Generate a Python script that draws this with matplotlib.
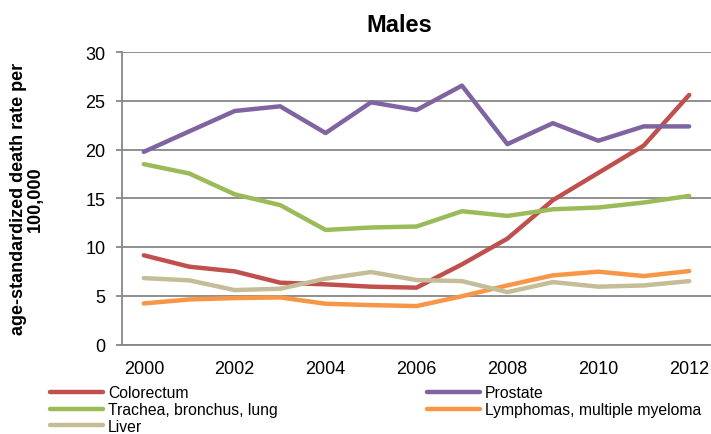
import matplotlib

matplotlib.use("Agg")

import matplotlib.pyplot as plt

plt.rcParams["font.family"] = ["Liberation Sans", "DejaVu Sans"]

years = list(range(2000, 2013))

colorectum = [9.15, 7.98, 7.5, 6.34, 6.17, 5.93, 5.83, 8.22, 10.86, 14.8, 17.6, 20.4, 25.6]
prostate = [19.76, 21.86, 23.95, 24.43, 21.69, 24.84, 24.05, 26.55, 20.55, 22.7, 20.9, 22.37, 22.37]
trachea = [18.5, 17.54, 15.4, 14.3, 11.75, 12.0, 12.1, 13.67, 13.19, 13.87, 14.05, 14.56, 15.24]
lymphomas = [4.21, 4.62, 4.76, 4.83, 4.18, 4.04, 3.94, 4.95, 6.06, 7.09, 7.47, 7.02, 7.53]
liver = [6.81, 6.58, 5.58, 5.72, 6.75, 7.43, 6.61, 6.5, 5.37, 6.4, 5.93, 6.06, 6.5]

series_names = [
    "Colorectum",
    "Prostate",
    "Trachea, bronchus, lung",
    "Lymphomas, multiple myeloma",
    "Liver",
]
series_values = [colorectum, prostate, trachea, lymphomas, liver]
series_colors = ["#C0504D", "#8064A2", "#9BBB59", "#F79646", "#C4BD97"]

grid_color = "#878787"

figure = plt.figure(figsize=(7.11, 4.35), dpi=100)
axis = figure.add_axes([122 / 711, 1 - 345.5 / 435, 1 - 122 / 711, (345.5 - 53) / 435])

lines = {}
for name, values, color in zip(series_names, series_values, series_colors):
    (line,) = axis.plot(
        years,
        values,
        color=color,
        linewidth=3.2,
        solid_capstyle="round",
        solid_joinstyle="round",
        label=name,
    )
    lines[name] = line

axis.set_xlim(1999.52, 2012.48)
axis.set_ylim(0, 30)
axis.set_yticks(range(0, 31, 5))
axis.set_xticks(range(2000, 2013, 2))

axis.grid(axis="y", color=grid_color, linewidth=1.3)
axis.set_axisbelow(True)
for side in ["top", "right"]:
    axis.spines[side].set_visible(False)
axis.spines["left"].set_color(grid_color)
axis.spines["left"].set_linewidth(1.3)
axis.spines["bottom"].set_color(grid_color)
axis.spines["bottom"].set_linewidth(1.3)

axis.tick_params(axis="y", length=4, width=1.3, color=grid_color, pad=8, labelsize=13)
axis.tick_params(axis="x", length=0, pad=11, labelsize=13)

figure.text(
    399 / 711,
    1 - 32 / 435,
    "Males",
    ha="center",
    va="baseline",
    fontsize=17,
    fontweight="bold",
)

figure.text(
    27 / 711,
    1 - 199 / 435,
    "age-standardized death rate per\n100,000",
    rotation=90,
    ha="center",
    va="center",
    multialignment="center",
    fontsize=13,
    fontweight="bold",
    linespacing=1.05,
)

legend_style = dict(
    loc="upper left",
    frameon=False,
    fontsize=11.3,
    borderpad=0,
    borderaxespad=0,
    handlelength=3.4,
    handletextpad=0.3,
    labelspacing=0.1,
)

left_names = ["Colorectum", "Trachea, bronchus, lung", "Liver"]
right_names = ["Prostate", "Lymphomas, multiple myeloma"]

left_legend = figure.legend(
    [lines[n] for n in left_names],
    left_names,
    bbox_to_anchor=(50 / 711, 1 - 386.5 / 435),
    **legend_style,
)
right_legend = figure.legend(
    [lines[n] for n in right_names],
    right_names,
    bbox_to_anchor=(427 / 711, 1 - 386.5 / 435),
    **legend_style,
)

figure.savefig("out.png", dpi=100)
plt.close(figure)
